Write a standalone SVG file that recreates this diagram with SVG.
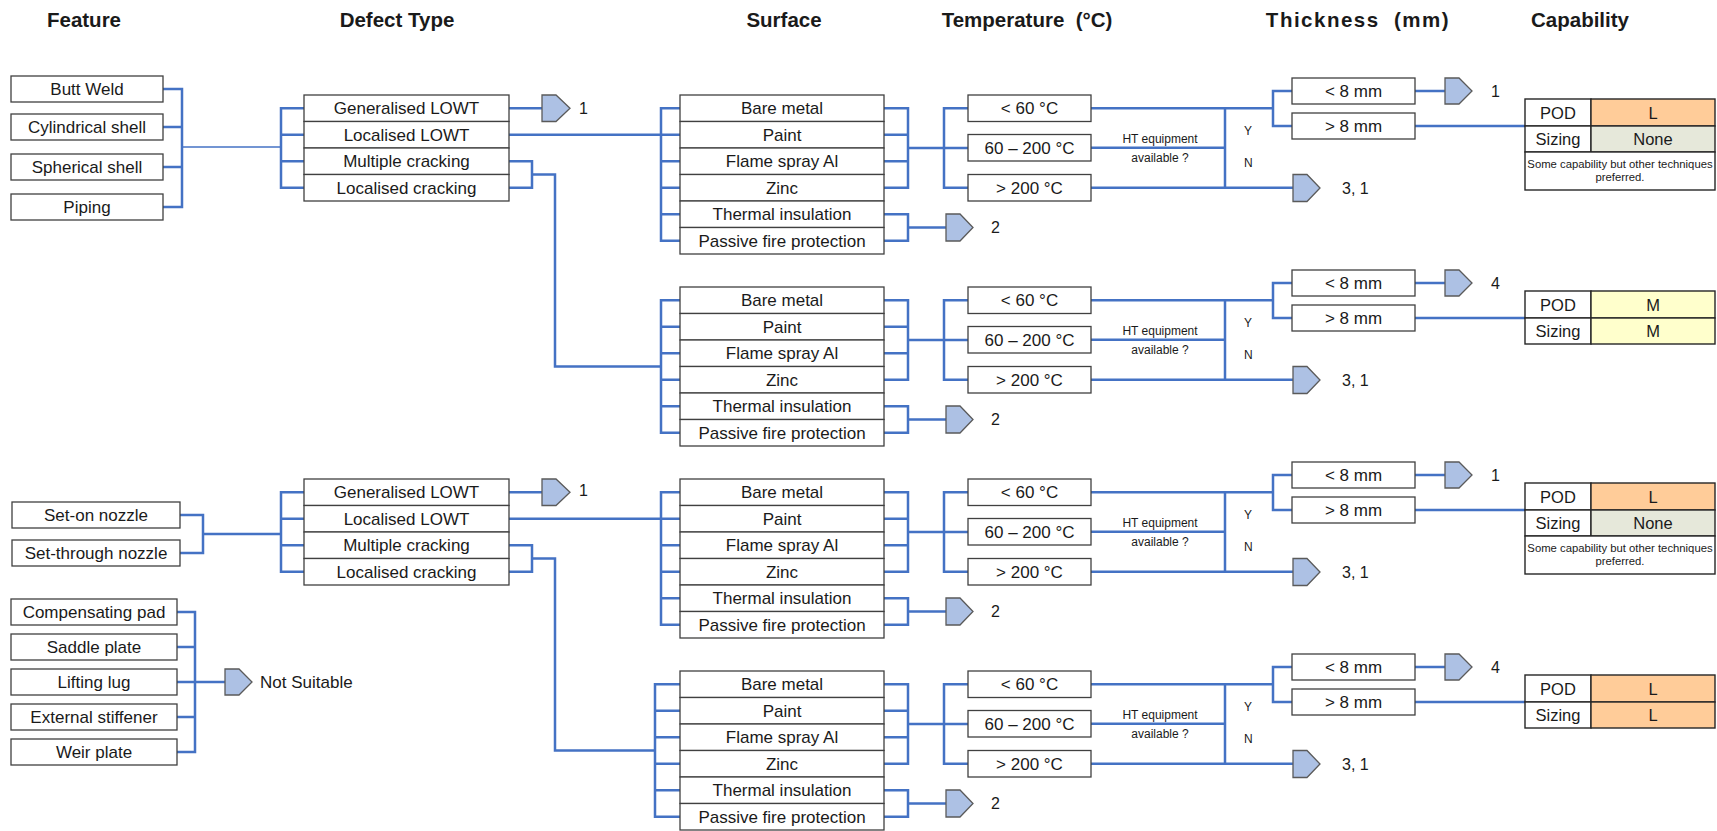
<svg xmlns="http://www.w3.org/2000/svg" width="1717" height="831" viewBox="0 0 1717 831">
  <style>
    text { font-family: "Liberation Sans", Arial, sans-serif; fill: #1a1a1a; }
    .t { font-size: 17px; text-anchor: middle; }
    .h { font-size: 20.5px; font-weight: bold; text-anchor: middle; }
    .lbl { font-size: 16px; }
    .s { font-size: 12px; }
    .sm { font-size: 12px; text-anchor: middle; }
    .cap { font-size: 16.5px; text-anchor: middle; }
    .note { font-size: 11.3px; text-anchor: middle; }
    .box { fill: #ffffff; stroke: #404040; stroke-width: 1.3; }
    .cell { stroke: #262626; stroke-width: 1.4; }
    .c { fill: none; stroke: #4472c4; stroke-width: 2.5; }
    .thin { stroke-width: 1.6; }
    .arr { fill: #adc1e4; stroke: #5a5a5a; stroke-width: 1.3; }
    .lo { fill: #ffcc99; }
    .med { fill: #ffffcc; }
    .none { fill: #e6e8da; }
    .w { fill: #ffffff; }
  </style>

  <!-- Column headings -->
  <g id="headings">
    <text class="h" x="84" y="27">Feature</text>
    <text class="h" x="397" y="27">Defect Type</text>
    <text class="h" x="784" y="27">Surface</text>
    <text class="h" x="1027" y="27" xml:space="preserve">Temperature  (°C)</text>
    <text class="h" x="1358" y="27" letter-spacing="1.5" xml:space="preserve">Thickness  (mm)</text>
    <text class="h" x="1580" y="27">Capability</text>
  </g>

  <!-- Connectors -->
  <g id="connectors">
    <!-- upper features to defect types -->
    <path class="c" d="M163,89 H182 V207 H163 M163,127 H182 M163,167 H182"/>
    <path class="c thin" d="M182,147 H281"/>
    <path class="c" d="M304,108.25 H281 V187.75 H304 M281,134.75 H304 M281,161.25 H304"/>
    <path class="c" d="M509,108.25 H542"/>
    <path class="c" d="M509,134.75 H661"/>
    <path class="c" d="M509,161.25 H532 V187.75 H509 M532,174.5 H555 V366.5 H661"/>

    <!-- lower features to defect types -->
    <path class="c" d="M180,515 H203 V553 H180 M203,534 H281"/>
    <path class="c" d="M304,492.25 H281 V571.75 H304 M281,518.75 H304 M281,545.25 H304"/>
    <path class="c" d="M509,492.25 H542"/>
    <path class="c" d="M509,518.75 H661"/>
    <path class="c" d="M509,545.25 H532 V571.75 H509 M532,558.5 H555 V750.5 H655"/>

    <!-- unsuitable features -->
    <path class="c" d="M177,612 H195 V752 H177 M177,647 H195 M177,717 H195 M177,682 H225"/>

    <!-- surface / temperature / thickness branches, one set per block -->
    <g id="conn-a">
      <path class="c" d="M680,108.25 H661 V240.75 H680 M661,134.75 H680 M661,161.25 H680 M661,187.75 H680 M661,214.25 H680"/>
      <path class="c" d="M884,108.25 H908 V187.75 H884 M884,134.75 H908 M884,161.25 H908 M908,148 H968"/>
      <path class="c" d="M968,108.25 H944 V187.75 H968"/>
      <path class="c" d="M884,214.25 H908 V240.75 H884 M908,227.5 H946"/>
      <path class="c" d="M1091,108.25 H1273 M1091,147.75 H1225 M1091,187.75 H1293 M1225,108.25 V187.75"/>
      <path class="c" d="M1292,91 H1273 V126 H1292"/>
      <path class="c" d="M1415,91 H1445 M1415,126 H1525"/>
    </g>
    <g id="conn-b" transform="translate(0,192)">
      <path class="c" d="M680,108.25 H661 V240.75 H680 M661,134.75 H680 M661,161.25 H680 M661,187.75 H680 M661,214.25 H680"/>
      <path class="c" d="M884,108.25 H908 V187.75 H884 M884,134.75 H908 M884,161.25 H908 M908,148 H968"/>
      <path class="c" d="M968,108.25 H944 V187.75 H968"/>
      <path class="c" d="M884,214.25 H908 V240.75 H884 M908,227.5 H946"/>
      <path class="c" d="M1091,108.25 H1273 M1091,147.75 H1225 M1091,187.75 H1293 M1225,108.25 V187.75"/>
      <path class="c" d="M1292,91 H1273 V126 H1292"/>
      <path class="c" d="M1415,91 H1445 M1415,126 H1525"/>
    </g>
    <g id="conn-c" transform="translate(0,384)">
      <path class="c" d="M680,108.25 H661 V240.75 H680 M661,134.75 H680 M661,161.25 H680 M661,187.75 H680 M661,214.25 H680"/>
      <path class="c" d="M884,108.25 H908 V187.75 H884 M884,134.75 H908 M884,161.25 H908 M908,148 H968"/>
      <path class="c" d="M968,108.25 H944 V187.75 H968"/>
      <path class="c" d="M884,214.25 H908 V240.75 H884 M908,227.5 H946"/>
      <path class="c" d="M1091,108.25 H1273 M1091,147.75 H1225 M1091,187.75 H1293 M1225,108.25 V187.75"/>
      <path class="c" d="M1292,91 H1273 V126 H1292"/>
      <path class="c" d="M1415,91 H1445 M1415,126 H1525"/>
    </g>
    <g id="conn-d" transform="translate(0,576)">
      <path class="c" d="M680,108.25 H655 V240.75 H680 M655,134.75 H680 M655,161.25 H680 M655,187.75 H680 M655,214.25 H680"/>
      <path class="c" d="M884,108.25 H908 V187.75 H884 M884,134.75 H908 M884,161.25 H908 M908,148 H968"/>
      <path class="c" d="M968,108.25 H944 V187.75 H968"/>
      <path class="c" d="M884,214.25 H908 V240.75 H884 M908,227.5 H946"/>
      <path class="c" d="M1091,108.25 H1273 M1091,147.75 H1225 M1091,187.75 H1293 M1225,108.25 V187.75"/>
      <path class="c" d="M1292,91 H1273 V126 H1292"/>
      <path class="c" d="M1415,91 H1445 M1415,126 H1525"/>
    </g>
  </g>

  <!-- Features, upper group -->
  <g id="f-butt-weld"><rect class="box" x="11" y="76" width="152" height="26"/><text class="t" x="87" y="95">Butt Weld</text></g>
  <g id="f-cyl-shell"><rect class="box" x="11" y="114" width="152" height="26"/><text class="t" x="87" y="133">Cylindrical shell</text></g>
  <g id="f-sph-shell"><rect class="box" x="11" y="154" width="152" height="26"/><text class="t" x="87" y="173">Spherical shell</text></g>
  <g id="f-piping"><rect class="box" x="11" y="194" width="152" height="26"/><text class="t" x="87" y="213">Piping</text></g>

  <!-- Defect types, upper group -->
  <g id="d1-gen-lowt"><rect class="box" x="304" y="95" width="205" height="26.5"/><text class="t" x="406.5" y="114.25">Generalised LOWT</text></g>
  <g id="d1-loc-lowt"><rect class="box" x="304" y="121.5" width="205" height="26.5"/><text class="t" x="406.5" y="140.75">Localised LOWT</text></g>
  <g id="d1-mult-crack"><rect class="box" x="304" y="148" width="205" height="26.5"/><text class="t" x="406.5" y="167.25">Multiple cracking</text></g>
  <g id="d1-loc-crack"><rect class="box" x="304" y="174.5" width="205" height="26.5"/><text class="t" x="406.5" y="193.75">Localised cracking</text></g>
  <g id="d1-out"><polygon class="arr" points="542,95 556,95 570,108.25 556,121.5 542,121.5"/><text class="lbl" x="579" y="114">1</text></g>

  <!-- Features, lower group -->
  <g id="f-set-on"><rect class="box" x="12" y="502" width="168" height="26"/><text class="t" x="96" y="521">Set-on nozzle</text></g>
  <g id="f-set-through"><rect class="box" x="12" y="540" width="168" height="26"/><text class="t" x="96" y="559">Set-through nozzle</text></g>

  <!-- Defect types, lower group -->
  <g id="d2-gen-lowt"><rect class="box" x="304" y="479" width="205" height="26.5"/><text class="t" x="406.5" y="498.25">Generalised LOWT</text></g>
  <g id="d2-loc-lowt"><rect class="box" x="304" y="505.5" width="205" height="26.5"/><text class="t" x="406.5" y="524.75">Localised LOWT</text></g>
  <g id="d2-mult-crack"><rect class="box" x="304" y="532" width="205" height="26.5"/><text class="t" x="406.5" y="551.25">Multiple cracking</text></g>
  <g id="d2-loc-crack"><rect class="box" x="304" y="558.5" width="205" height="26.5"/><text class="t" x="406.5" y="577.75">Localised cracking</text></g>
  <g id="d2-out"><polygon class="arr" points="542,479 556,479 570,492.25 556,505.5 542,505.5"/><text class="lbl" x="579" y="496">1</text></g>

  <!-- Features not suited to the technique -->
  <g id="f-comp-pad"><rect class="box" x="11" y="599" width="166" height="26"/><text class="t" x="94" y="618">Compensating pad</text></g>
  <g id="f-saddle"><rect class="box" x="11" y="634" width="166" height="26"/><text class="t" x="94" y="653">Saddle plate</text></g>
  <g id="f-lifting"><rect class="box" x="11" y="669" width="166" height="26"/><text class="t" x="94" y="688">Lifting lug</text></g>
  <g id="f-stiffener"><rect class="box" x="11" y="704" width="166" height="26"/><text class="t" x="94" y="723">External stiffener</text></g>
  <g id="f-weir"><rect class="box" x="11" y="739" width="166" height="26"/><text class="t" x="94" y="758">Weir plate</text></g>
  <g id="not-suitable"><polygon class="arr" points="225,669 239,669 252,682 239,695 225,695"/><text class="t" x="260" y="688" style="text-anchor:start">Not Suitable</text></g>

  <!-- Block A: localised LOWT, upper group -->
  <g id="block-a">
    <g id="a-bare"><rect class="box" x="680" y="95" width="204" height="26.5"/><text class="t" x="782" y="114.25">Bare metal</text></g>
    <g id="a-paint"><rect class="box" x="680" y="121.5" width="204" height="26.5"/><text class="t" x="782" y="140.75">Paint</text></g>
    <g id="a-flame"><rect class="box" x="680" y="148" width="204" height="26.5"/><text class="t" x="782" y="167.25">Flame spray Al</text></g>
    <g id="a-zinc"><rect class="box" x="680" y="174.5" width="204" height="26.5"/><text class="t" x="782" y="193.75">Zinc</text></g>
    <g id="a-thermal"><rect class="box" x="680" y="201" width="204" height="26.5"/><text class="t" x="782" y="220.25">Thermal insulation</text></g>
    <g id="a-pfp"><rect class="box" x="680" y="227.5" width="204" height="26.5"/><text class="t" x="782" y="246.75">Passive fire protection</text></g>
    <g id="a-out2"><polygon class="arr" points="946,214 960,214 973,227.5 960,241 946,241"/><text class="lbl" x="991" y="233">2</text></g>
    <g id="a-t60"><rect class="box" x="968" y="95" width="123" height="26.5"/><text class="t" x="1029.5" y="114.25">&lt; 60 °C</text></g>
    <g id="a-t200"><rect class="box" x="968" y="134.5" width="123" height="26.5"/><text class="t" x="1029.5" y="153.75">60 – 200 °C</text></g>
    <g id="a-thi"><rect class="box" x="968" y="174.5" width="123" height="26.5"/><text class="t" x="1029.5" y="193.75">&gt; 200 °C</text></g>
    <g id="a-ht"><text class="sm" x="1160" y="143">HT equipment</text><text class="sm" x="1160" y="162">available ?</text><text class="s" x="1244" y="135">Y</text><text class="s" x="1244" y="167">N</text></g>
    <g id="a-out31"><polygon class="arr" points="1293,174.5 1307,174.5 1320,188 1307,201.5 1293,201.5"/><text class="lbl" x="1342" y="194">3, 1</text></g>
    <g id="a-lt8"><rect class="box" x="1292" y="78" width="123" height="26"/><text class="t" x="1353.5" y="97">&lt; 8 mm</text></g>
    <g id="a-gt8"><rect class="box" x="1292" y="113" width="123" height="26"/><text class="t" x="1353.5" y="132">&gt; 8 mm</text></g>
    <g id="a-out1"><polygon class="arr" points="1445,78 1459,78 1472,91 1459,104 1445,104"/><text class="lbl" x="1491" y="97">1</text></g>
    <g id="a-cap">
      <rect class="cell w" x="1525" y="99" width="66" height="27"/>
      <rect class="cell lo" x="1591" y="99" width="124" height="27"/>
      <rect class="cell w" x="1525" y="126" width="66" height="26"/>
      <rect class="cell none" x="1591" y="126" width="124" height="26"/>
      <rect class="cell w" x="1525" y="152" width="190" height="38"/>
      <text class="cap" x="1558" y="118.5">POD</text><text class="cap" x="1653" y="118.5">L</text>
      <text class="cap" x="1558" y="145">Sizing</text><text class="cap" x="1653" y="145">None</text>
      <text class="note" x="1620" y="168">Some capability but other techniques</text>
      <text class="note" x="1620" y="181">preferred.</text>
    </g>
  </g>

  <!-- Block B: cracking, upper group -->
  <g id="block-b" transform="translate(0,192)">
    <g id="b-bare"><rect class="box" x="680" y="95" width="204" height="26.5"/><text class="t" x="782" y="114.25">Bare metal</text></g>
    <g id="b-paint"><rect class="box" x="680" y="121.5" width="204" height="26.5"/><text class="t" x="782" y="140.75">Paint</text></g>
    <g id="b-flame"><rect class="box" x="680" y="148" width="204" height="26.5"/><text class="t" x="782" y="167.25">Flame spray Al</text></g>
    <g id="b-zinc"><rect class="box" x="680" y="174.5" width="204" height="26.5"/><text class="t" x="782" y="193.75">Zinc</text></g>
    <g id="b-thermal"><rect class="box" x="680" y="201" width="204" height="26.5"/><text class="t" x="782" y="220.25">Thermal insulation</text></g>
    <g id="b-pfp"><rect class="box" x="680" y="227.5" width="204" height="26.5"/><text class="t" x="782" y="246.75">Passive fire protection</text></g>
    <g id="b-out2"><polygon class="arr" points="946,214 960,214 973,227.5 960,241 946,241"/><text class="lbl" x="991" y="233">2</text></g>
    <g id="b-t60"><rect class="box" x="968" y="95" width="123" height="26.5"/><text class="t" x="1029.5" y="114.25">&lt; 60 °C</text></g>
    <g id="b-t200"><rect class="box" x="968" y="134.5" width="123" height="26.5"/><text class="t" x="1029.5" y="153.75">60 – 200 °C</text></g>
    <g id="b-thi"><rect class="box" x="968" y="174.5" width="123" height="26.5"/><text class="t" x="1029.5" y="193.75">&gt; 200 °C</text></g>
    <g id="b-ht"><text class="sm" x="1160" y="143">HT equipment</text><text class="sm" x="1160" y="162">available ?</text><text class="s" x="1244" y="135">Y</text><text class="s" x="1244" y="167">N</text></g>
    <g id="b-out31"><polygon class="arr" points="1293,174.5 1307,174.5 1320,188 1307,201.5 1293,201.5"/><text class="lbl" x="1342" y="194">3, 1</text></g>
    <g id="b-lt8"><rect class="box" x="1292" y="78" width="123" height="26"/><text class="t" x="1353.5" y="97">&lt; 8 mm</text></g>
    <g id="b-gt8"><rect class="box" x="1292" y="113" width="123" height="26"/><text class="t" x="1353.5" y="132">&gt; 8 mm</text></g>
    <g id="b-out4"><polygon class="arr" points="1445,78 1459,78 1472,91 1459,104 1445,104"/><text class="lbl" x="1491" y="97">4</text></g>
    <g id="b-cap">
      <rect class="cell w" x="1525" y="99" width="66" height="27"/>
      <rect class="cell med" x="1591" y="99" width="124" height="27"/>
      <rect class="cell w" x="1525" y="126" width="66" height="26"/>
      <rect class="cell med" x="1591" y="126" width="124" height="26"/>
      <text class="cap" x="1558" y="118.5">POD</text><text class="cap" x="1653" y="118.5">M</text>
      <text class="cap" x="1558" y="145">Sizing</text><text class="cap" x="1653" y="145">M</text>
    </g>
  </g>

  <!-- Block C: localised LOWT, lower group -->
  <g id="block-c" transform="translate(0,384)">
    <g id="c-bare"><rect class="box" x="680" y="95" width="204" height="26.5"/><text class="t" x="782" y="114.25">Bare metal</text></g>
    <g id="c-paint"><rect class="box" x="680" y="121.5" width="204" height="26.5"/><text class="t" x="782" y="140.75">Paint</text></g>
    <g id="c-flame"><rect class="box" x="680" y="148" width="204" height="26.5"/><text class="t" x="782" y="167.25">Flame spray Al</text></g>
    <g id="c-zinc"><rect class="box" x="680" y="174.5" width="204" height="26.5"/><text class="t" x="782" y="193.75">Zinc</text></g>
    <g id="c-thermal"><rect class="box" x="680" y="201" width="204" height="26.5"/><text class="t" x="782" y="220.25">Thermal insulation</text></g>
    <g id="c-pfp"><rect class="box" x="680" y="227.5" width="204" height="26.5"/><text class="t" x="782" y="246.75">Passive fire protection</text></g>
    <g id="c-out2"><polygon class="arr" points="946,214 960,214 973,227.5 960,241 946,241"/><text class="lbl" x="991" y="233">2</text></g>
    <g id="c-t60"><rect class="box" x="968" y="95" width="123" height="26.5"/><text class="t" x="1029.5" y="114.25">&lt; 60 °C</text></g>
    <g id="c-t200"><rect class="box" x="968" y="134.5" width="123" height="26.5"/><text class="t" x="1029.5" y="153.75">60 – 200 °C</text></g>
    <g id="c-thi"><rect class="box" x="968" y="174.5" width="123" height="26.5"/><text class="t" x="1029.5" y="193.75">&gt; 200 °C</text></g>
    <g id="c-ht"><text class="sm" x="1160" y="143">HT equipment</text><text class="sm" x="1160" y="162">available ?</text><text class="s" x="1244" y="135">Y</text><text class="s" x="1244" y="167">N</text></g>
    <g id="c-out31"><polygon class="arr" points="1293,174.5 1307,174.5 1320,188 1307,201.5 1293,201.5"/><text class="lbl" x="1342" y="194">3, 1</text></g>
    <g id="c-lt8"><rect class="box" x="1292" y="78" width="123" height="26"/><text class="t" x="1353.5" y="97">&lt; 8 mm</text></g>
    <g id="c-gt8"><rect class="box" x="1292" y="113" width="123" height="26"/><text class="t" x="1353.5" y="132">&gt; 8 mm</text></g>
    <g id="c-out1"><polygon class="arr" points="1445,78 1459,78 1472,91 1459,104 1445,104"/><text class="lbl" x="1491" y="97">1</text></g>
    <g id="c-cap">
      <rect class="cell w" x="1525" y="99" width="66" height="27"/>
      <rect class="cell lo" x="1591" y="99" width="124" height="27"/>
      <rect class="cell w" x="1525" y="126" width="66" height="26"/>
      <rect class="cell none" x="1591" y="126" width="124" height="26"/>
      <rect class="cell w" x="1525" y="152" width="190" height="38"/>
      <text class="cap" x="1558" y="118.5">POD</text><text class="cap" x="1653" y="118.5">L</text>
      <text class="cap" x="1558" y="145">Sizing</text><text class="cap" x="1653" y="145">None</text>
      <text class="note" x="1620" y="168">Some capability but other techniques</text>
      <text class="note" x="1620" y="181">preferred.</text>
    </g>
  </g>

  <!-- Block D: cracking, lower group -->
  <g id="block-d" transform="translate(0,576)">
    <g id="d-bare"><rect class="box" x="680" y="95" width="204" height="26.5"/><text class="t" x="782" y="114.25">Bare metal</text></g>
    <g id="d-paint"><rect class="box" x="680" y="121.5" width="204" height="26.5"/><text class="t" x="782" y="140.75">Paint</text></g>
    <g id="d-flame"><rect class="box" x="680" y="148" width="204" height="26.5"/><text class="t" x="782" y="167.25">Flame spray Al</text></g>
    <g id="d-zinc"><rect class="box" x="680" y="174.5" width="204" height="26.5"/><text class="t" x="782" y="193.75">Zinc</text></g>
    <g id="d-thermal"><rect class="box" x="680" y="201" width="204" height="26.5"/><text class="t" x="782" y="220.25">Thermal insulation</text></g>
    <g id="d-pfp"><rect class="box" x="680" y="227.5" width="204" height="26.5"/><text class="t" x="782" y="246.75">Passive fire protection</text></g>
    <g id="d-out2"><polygon class="arr" points="946,214 960,214 973,227.5 960,241 946,241"/><text class="lbl" x="991" y="233">2</text></g>
    <g id="d-t60"><rect class="box" x="968" y="95" width="123" height="26.5"/><text class="t" x="1029.5" y="114.25">&lt; 60 °C</text></g>
    <g id="d-t200"><rect class="box" x="968" y="134.5" width="123" height="26.5"/><text class="t" x="1029.5" y="153.75">60 – 200 °C</text></g>
    <g id="d-thi"><rect class="box" x="968" y="174.5" width="123" height="26.5"/><text class="t" x="1029.5" y="193.75">&gt; 200 °C</text></g>
    <g id="d-ht"><text class="sm" x="1160" y="143">HT equipment</text><text class="sm" x="1160" y="162">available ?</text><text class="s" x="1244" y="135">Y</text><text class="s" x="1244" y="167">N</text></g>
    <g id="d-out31"><polygon class="arr" points="1293,174.5 1307,174.5 1320,188 1307,201.5 1293,201.5"/><text class="lbl" x="1342" y="194">3, 1</text></g>
    <g id="d-lt8"><rect class="box" x="1292" y="78" width="123" height="26"/><text class="t" x="1353.5" y="97">&lt; 8 mm</text></g>
    <g id="d-gt8"><rect class="box" x="1292" y="113" width="123" height="26"/><text class="t" x="1353.5" y="132">&gt; 8 mm</text></g>
    <g id="d-out4"><polygon class="arr" points="1445,78 1459,78 1472,91 1459,104 1445,104"/><text class="lbl" x="1491" y="97">4</text></g>
    <g id="d-cap">
      <rect class="cell w" x="1525" y="99" width="66" height="27"/>
      <rect class="cell lo" x="1591" y="99" width="124" height="27"/>
      <rect class="cell w" x="1525" y="126" width="66" height="26"/>
      <rect class="cell lo" x="1591" y="126" width="124" height="26"/>
      <text class="cap" x="1558" y="118.5">POD</text><text class="cap" x="1653" y="118.5">L</text>
      <text class="cap" x="1558" y="145">Sizing</text><text class="cap" x="1653" y="145">L</text>
    </g>
  </g>
</svg>
